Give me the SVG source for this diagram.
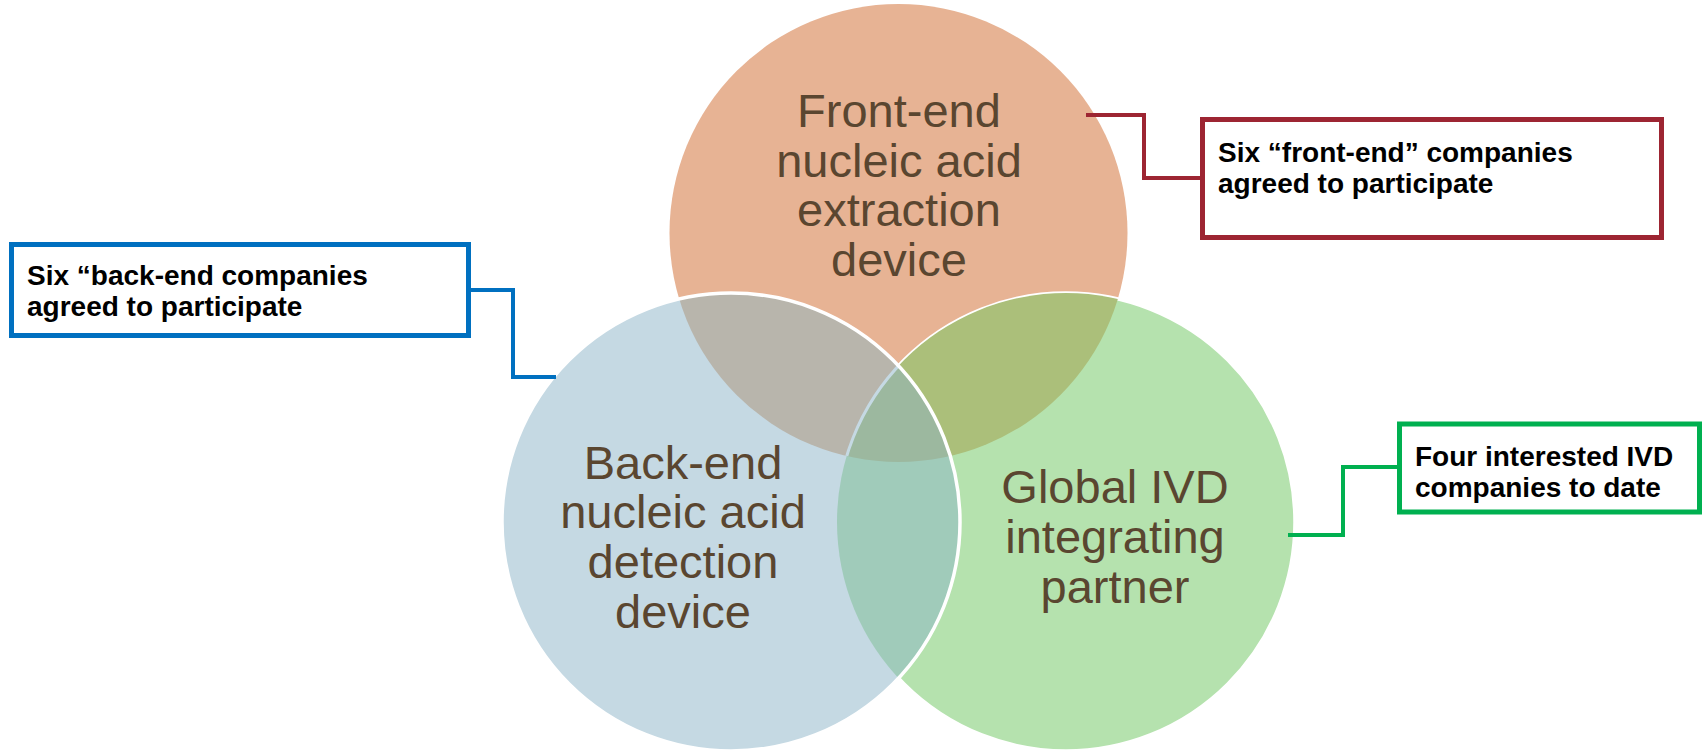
<svg xmlns="http://www.w3.org/2000/svg" width="1703" height="751" viewBox="0 0 1703 751">
<style>
.lbl{font-family:"Liberation Sans",Arial,sans-serif;font-size:47px;fill:#5A4630;text-anchor:middle}
.note{font-family:"Liberation Sans",Arial,sans-serif;font-size:28px;font-weight:bold;fill:#000}
.box{fill:#fff;stroke-width:5}
.con{fill:none;stroke-width:4}
.edge{fill:none;stroke:#fff;stroke-width:3.5}
</style>
<defs>
<clipPath id="cT"><circle cx="898.5" cy="233" r="229"/></clipPath>
<clipPath id="cL"><circle cx="731" cy="522" r="229"/></clipPath>
<clipPath id="cR"><circle cx="1066" cy="522" r="229"/></clipPath>
</defs>
<rect width="1703" height="751" fill="#fff"/>
<g id="front-end">
<circle cx="898.5" cy="233" r="229" fill="#E7B394"/>
</g>
<g id="global-ivd">
<circle cx="1066" cy="522" r="229" fill="#B5E2AE" stroke="#fff" stroke-width="3.5"/>
<circle cx="1066" cy="522" r="229" fill="#ABBF7A" clip-path="url(#cT)"/>
</g>
<g id="back-end">
<circle cx="731" cy="522" r="229" fill="#C5D9E3"/>
<g clip-path="url(#cL)">
<circle cx="898.5" cy="233" r="229" fill="#B8B5AC"/>
<circle cx="1066" cy="522" r="229" fill="#A0CBBA"/>
<g clip-path="url(#cT)"><circle cx="1066" cy="522" r="229" fill="#9CB89F"/></g>
<g clip-path="url(#cT)"><circle cx="1066" cy="522" r="229" fill="none" stroke="#C5D9E3" stroke-width="3"/></g>
</g>
<circle cx="731" cy="522" r="229" class="edge"/>
</g>
<g id="labels">
<text class="lbl" x="899"><tspan x="899" y="127">Front-end</tspan><tspan x="899" y="177">nucleic acid</tspan><tspan x="899" y="226">extraction</tspan><tspan x="899" y="276">device</tspan></text>
<text class="lbl" x="683"><tspan x="683" y="479">Back-end</tspan><tspan x="683" y="528">nucleic acid</tspan><tspan x="683" y="578">detection</tspan><tspan x="683" y="628">device</tspan></text>
<text class="lbl" x="1115"><tspan x="1115" y="503">Global IVD</tspan><tspan x="1115" y="553">integrating</tspan><tspan x="1115" y="603">partner</tspan></text>
</g>
<g id="connectors">
<polyline class="con" stroke="#0070C0" points="470,290 513,290 513,377 556,377"/>
<polyline class="con" stroke="#9D2532" points="1086,115 1144,115 1144,178 1200,178"/>
<polyline class="con" stroke="#00B050" points="1288,535 1343,535 1343,467 1398,467"/>
</g>
<g id="note-back">
<rect class="box" stroke="#0070C0" x="11.5" y="244.5" width="457" height="91"/>
<text class="note"><tspan x="27" y="285">Six “back-end companies</tspan><tspan x="27" y="316">agreed to participate</tspan></text>
</g>
<g id="note-front">
<rect class="box" stroke="#9D2532" x="1202.5" y="119.5" width="459" height="118"/>
<text class="note"><tspan x="1218" y="162">Six “front-end” companies</tspan><tspan x="1218" y="193">agreed to participate</tspan></text>
</g>
<g id="note-global">
<rect class="box" stroke="#00B050" x="1399.5" y="424" width="300" height="88"/>
<text class="note"><tspan x="1415" y="466">Four interested IVD</tspan><tspan x="1415" y="497">companies to date</tspan></text>
</g>
</svg>
